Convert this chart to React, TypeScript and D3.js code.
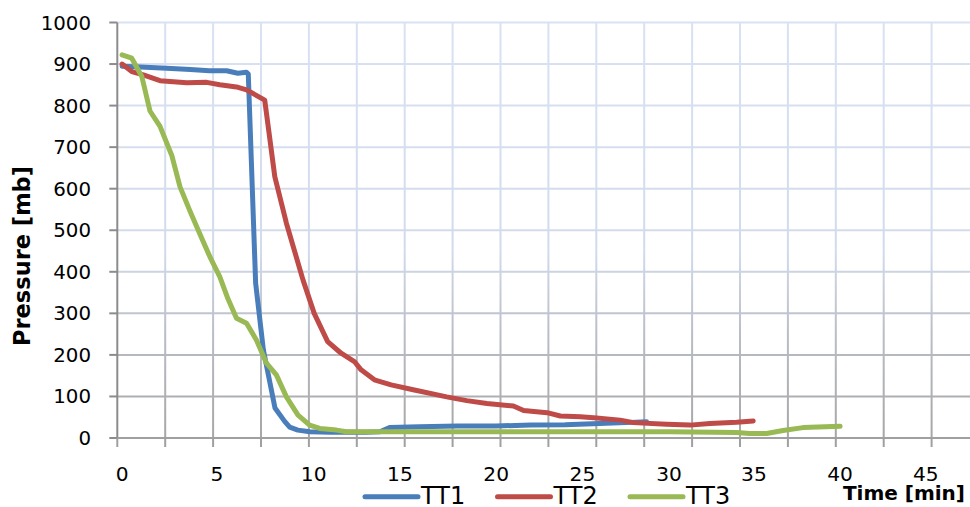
import React from "react";
import * as d3 from "d3";

// ---- data ----
const tt1Time = [0, 0.95, 2.35, 3.6, 4.6, 5.5, 6.08, 6.53, 6.62, 7.0, 7.4, 8.0, 8.5, 8.76, 9.18, 9.8, 11, 12, 13, 13.84, 14.4, 16, 18, 20, 22, 24, 26, 27.5, 28.7];
const tt1Value = [895, 893, 890, 887, 884, 884, 878, 880, 876, 373, 212, 72, 40, 26, 19, 15, 14, 14, 14, 15, 25, 27, 29, 29, 31, 32, 35, 37, 39];

const tt2Time = [0, 0.51, 1.12, 2.0, 3.41, 4.46, 5.15, 6.01, 6.53, 7.47, 7.99, 8.59, 9.45, 10.03, 10.81, 11.59, 12.36, 12.75, 13.52, 14.49, 15.69, 17.43, 18.47, 19.52, 21.0, 21.59, 22.95, 23.72, 24.88, 25.65, 27.18, 27.95, 29.86, 31.24, 32.41, 33.98, 34.96];
const tt2Value = [900, 882, 874, 860, 855, 856, 850, 845, 838, 813, 629, 517, 380, 300, 232, 204, 184, 164, 140, 128, 116, 99, 90, 83, 77, 66, 61, 53, 51, 49, 43, 37, 33, 31, 35, 38, 41];

const tt3Time = [0, 0.51, 1.04, 1.47, 2.0, 2.62, 3.05, 3.58, 4.1, 4.63, 5.15, 5.57, 6.01, 6.53, 7.04, 7.56, 8.07, 8.59, 9.19, 9.79, 10.35, 11.32, 11.9, 14, 18, 22, 26, 30, 33.98, 34.75, 35.74, 36.69, 37.85, 40];
const tt3Value = [922, 914, 870, 787, 750, 680, 605, 546, 491, 436, 388, 335, 288, 276, 236, 180, 152, 99, 55, 31, 23, 19, 15, 15, 15, 15, 15, 15, 13, 11, 11, 18, 25, 28];

const seriesNames = ["TT1", "TT2", "TT3"];
const xTickLabels = [0, 5, 10, 15, 20, 25, 30, 35, 40, 45];
const yTickValues = [0, 100, 200, 300, 400, 500, 600, 700, 800, 900, 1000];

// ---- layout ----
const W = 970;
const H = 507;
const PLOT_LEFT = 117.3;
const GRID_STEP = 47.9;
const GRID_COUNT = 18;
const PLOT_TOP = 22.5;
const PLOT_BOTTOM = 438;
// label centres along the (category-style) x axis, in grid units
const LABEL_UNITS = [0.1, 2.08, 4.1, 5.9, 7.91, 9.71, 11.52, 13.29, 15.09, 16.88];
const COLORS = ["#4a7ebb", "#be4b48", "#98b954"];
const FONT = "DejaVu Sans, Verdana, sans-serif";

export default function App() {
  const gridX = d3.scaleLinear().domain([0, GRID_COUNT]).range([PLOT_LEFT, PLOT_LEFT + GRID_STEP * GRID_COUNT]);
  const timeToUnit = d3.scaleLinear().domain(xTickLabels).range(LABEL_UNITS);
  const x = (t: number) => gridX(timeToUnit(t));
  const y = d3.scaleLinear().domain([0, 1000]).range([PLOT_BOTTOM, PLOT_TOP]);

  const series = [
    tt1Time.map((t, i) => [t, tt1Value[i]] as [number, number]),
    tt2Time.map((t, i) => [t, tt2Value[i]] as [number, number]),
    tt3Time.map((t, i) => [t, tt3Value[i]] as [number, number]),
  ];
  const line = d3.line<[number, number]>().x((d) => x(d[0])).y((d) => y(d[1]));

  const gridIdx = d3.range(0, GRID_COUNT + 1);
  const right = gridX(GRID_COUNT);

  const legendX = d3.scaleLinear().domain([0, 1]).range([365, 497.5]);

  return (
    <svg width={W} height={H} style={{ position: "absolute", left: 0, top: 0, background: "#fff" }}>
      <defs>
        <linearGradient id="gridGrad" gradientUnits="userSpaceOnUse" x1={0} y1={PLOT_TOP} x2={0} y2={PLOT_BOTTOM}>
          <stop offset="0" stopColor="#d9e2f2" />
          <stop offset="0.55" stopColor="#d2dbeb" />
          <stop offset="0.75" stopColor="#b9bdc6" />
          <stop offset="1" stopColor="#a6a6a6" />
        </linearGradient>
      </defs>
      {/* horizontal grid */}
      <g>
        {yTickValues.map((v) => (
          <line key={"h" + v} x1={PLOT_LEFT} x2={right} y1={y(v)} y2={y(v)} stroke="url(#gridGrad)" strokeWidth={2} />
        ))}
      </g>
      {/* vertical grid */}
      <g>
        {gridIdx.slice(1).map((k) => (
          <rect key={"v" + k} x={gridX(k) - 1} y={PLOT_TOP} width={2} height={PLOT_BOTTOM - PLOT_TOP} fill="url(#gridGrad)" />
        ))}
      </g>
      {/* axes */}
      <line x1={PLOT_LEFT} x2={PLOT_LEFT} y1={PLOT_TOP} y2={PLOT_BOTTOM} stroke="#8c8c8c" strokeWidth={2} />
      <line x1={PLOT_LEFT} x2={right} y1={PLOT_BOTTOM} y2={PLOT_BOTTOM} stroke="#a0a0a0" strokeWidth={2} />
      {yTickValues.map((v) => (
        <line key={"yt" + v} x1={PLOT_LEFT - 8} x2={PLOT_LEFT} y1={y(v)} y2={y(v)} stroke="#8c8c8c" strokeWidth={2} />
      ))}
      {gridIdx.map((k) => (
        <line key={"xt" + k} x1={gridX(k)} x2={gridX(k)} y1={PLOT_BOTTOM} y2={PLOT_BOTTOM + 9} stroke="#a0a0a0" strokeWidth={2} />
      ))}
      {/* tick labels */}
      {yTickValues.map((v) => (
        <text key={"yl" + v} x={91} y={y(v) + 7} textAnchor="end" fontFamily={FONT} fontSize={19.8} fill="#000">
          {v}
        </text>
      ))}
      {xTickLabels.map((t) => (
        <text key={"xl" + t} x={x(t)} y={481} textAnchor="middle" fontFamily={FONT} fontSize={20.2} fill="#000">
          {t}
        </text>
      ))}
      {/* series */}
      {series.map((s, i) => (
        <path key={"s" + i} d={line(s) || ""} fill="none" stroke={COLORS[i]} strokeWidth={5} strokeLinejoin="round" strokeLinecap="round" />
      ))}
      {/* axis titles */}
      <text x={965} y={500} textAnchor="end" fontFamily={FONT} fontWeight="bold" fontSize={20} fill="#000">
        Time [min]
      </text>
      <text transform="translate(30,256) rotate(-90)" textAnchor="middle" fontFamily={FONT} fontWeight="bold" fontSize={22.5} fill="#000">
        Pressure [mb]
      </text>
      {/* legend */}
      {seriesNames.map((name, i) => (
        <g key={"lg" + i} transform={`translate(${legendX(i)},0)`}>
          <line x1={0} x2={53} y1={496.7} y2={496.7} stroke={COLORS[i]} strokeWidth={5} strokeLinecap="round" />
          <text x={56} y={504} fontFamily={FONT} fontSize={24} fill="#000">
            {name}
          </text>
        </g>
      ))}
    </svg>
  );
}
